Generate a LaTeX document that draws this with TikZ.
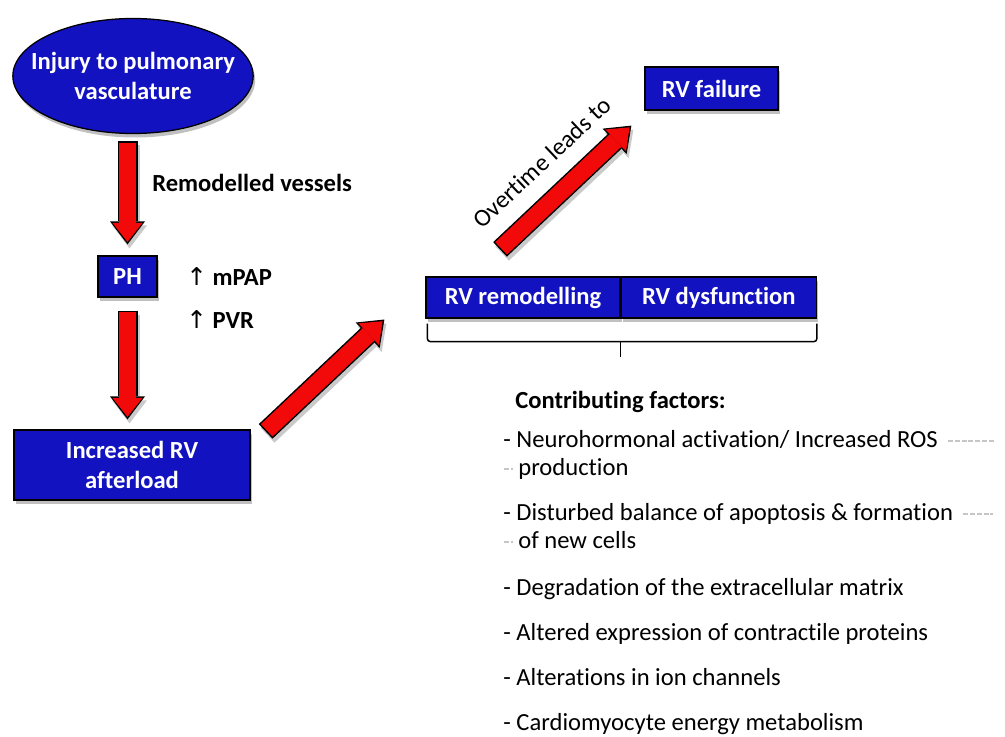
\documentclass[tikz,border=0pt]{standalone}
\usepackage{fontspec}
\setmainfont{Carlito}[RawFeature={-liga;-clig;-dlig;-calt}]
\newfontfamily\arrowfont{DejaVu Sans}
\usetikzlibrary{arrows.meta, positioning, calc, shapes.geometric, shadows}
\definecolor{BoxBlue}{RGB}{18,18,192}
\definecolor{ArrowRed}{RGB}{242,10,10}
\definecolor{ShadowGray}{RGB}{150,150,150}

\tikzset{
  box/.style={draw=black, line width=0.25mm, fill=BoxBlue, text=white, font=\bfseries,
    align=center, inner sep=0pt,
    drop shadow={shadow xshift=0.4mm, shadow yshift=-0.8mm, fill=ShadowGray, opacity=0.6}},
  fatarrow/.style={draw=ArrowRed, line width=3.4mm,
    -{Triangle[length=3.8mm, width=6mm, line width=0pt]},
    shorten >=0.5mm, shorten <=0.3mm,
    preaction={draw=ShadowGray, opacity=0.5, line width=4mm,
      -{Triangle[length=4.6mm, width=7mm, line width=0pt]},
      shorten >=0pt, shorten <=0pt,
      transform canvas={xshift=0.4mm, yshift=-0.8mm}},
    preaction={draw=black, line width=4mm,
      -{Triangle[length=4.6mm, width=7mm, line width=0pt]},
      shorten >=0pt, shorten <=0pt}},
  txt/.style={anchor=base west, inner sep=0pt},
  graydash/.style={draw=gray!45, line width=0.5mm, dash pattern=on 1mm off 0.35mm}
}

\begin{document}
\fontsize{14}{17}\selectfont
\begin{tikzpicture}[x=0.2mm, y=-0.2mm]
\useasboundingbox (0,0) rectangle (1005,736);

% cajas
\node[box, ellipse, inner xsep=-3.4mm, minimum width=48mm, minimum height=23mm] (inj) at (133,76)
    {Injury to pulmonary\\vasculature};
\node[box, minimum width=11.8mm, minimum height=8.2mm] (ph) at (127.5,276.5) {PH};
\node[box, minimum width=47.2mm, minimum height=14mm] (aft) at (132,465)
    {Increased RV\\afterload};
\node[box, minimum width=38.8mm, minimum height=8.2mm] (rem) at (523,297.5) {RV remodelling};
\node[box, minimum width=39mm, minimum height=8.2mm, right=0pt of rem] (dys) {RV dysfunction};
\node[box, minimum width=26.6mm, minimum height=8.6mm] (fail) at (711.5,88.5) {RV failure};

% textos
\node[txt, font=\bfseries] (vessels) at (152,192) {Remodelled vessels};
\node[txt] (mpap) at (186,285) {{\arrowfont ↑} \textbf{mPAP}};
\node[txt] (pvr) at (186,328) {{\arrowfont ↑} \textbf{PVR}};

% flechas
\draw[fatarrow] ($(ph.north |- inj.south)+(0,7)$) -- ($(ph.north)+(0,-11)$);
\draw[fatarrow] ($(ph.south)+(0,13)$) -- ($(ph.south |- aft.north)+(0,-10)$);
\draw[fatarrow] ($(aft.north east)+(15,2)$) -- ($(rem.west)+(-41,22)$);
\draw[fatarrow] ($(rem.north)+(-23,-27)$) --
    node[sloped, above=3.5mm, inner sep=0pt] (overtime) {Overtime leads to}
    ($(fail.south west)+(-13,15)$);

% llave
\draw[line width=0.3mm, rounded corners=0.6mm] ($(rem.south west)+(2,5)$) -- ++(0,18)
    -| ($(dys.south east)+(0,5)$);
\draw[line width=0.3mm] ($(rem.south east)+(0,23)$) -- ++(0,15);

% factores
\node[txt, font=\bfseries] (cf) at (515,408) {Contributing factors:};
\foreach \n/\x/\y/\t in {%
    f1/503/447/{- Neurohormonal activation/ Increased ROS},
    f2/518/475/{production},
    f3/503/520/{- Disturbed balance of apoptosis \& formation},
    f4/518/548/{of new cells},
    f5/503/595/{- Degradation of the extracellular matrix},
    f6/503/640/{- Altered expression of contractile proteins},
    f7/503/685/{- Alterations in ion channels},
    f8/503/730/{- Cardiomyocyte energy metabolism}}{%
    \node[txt] (\n) at (\x,\y) {\t};
}
\draw[graydash] ($(f1.base east)+(10,-6)$) -- ++(46,0);
\draw[graydash] ($(f2.base west)+(-14,-6)$) -- ++(9,0);
\draw[graydash] ($(f3.base east)+(10,-6)$) -- ++(30,0);
\draw[graydash] ($(f4.base west)+(-14,-6)$) -- ++(9,0);

\end{tikzpicture}
\end{document}
